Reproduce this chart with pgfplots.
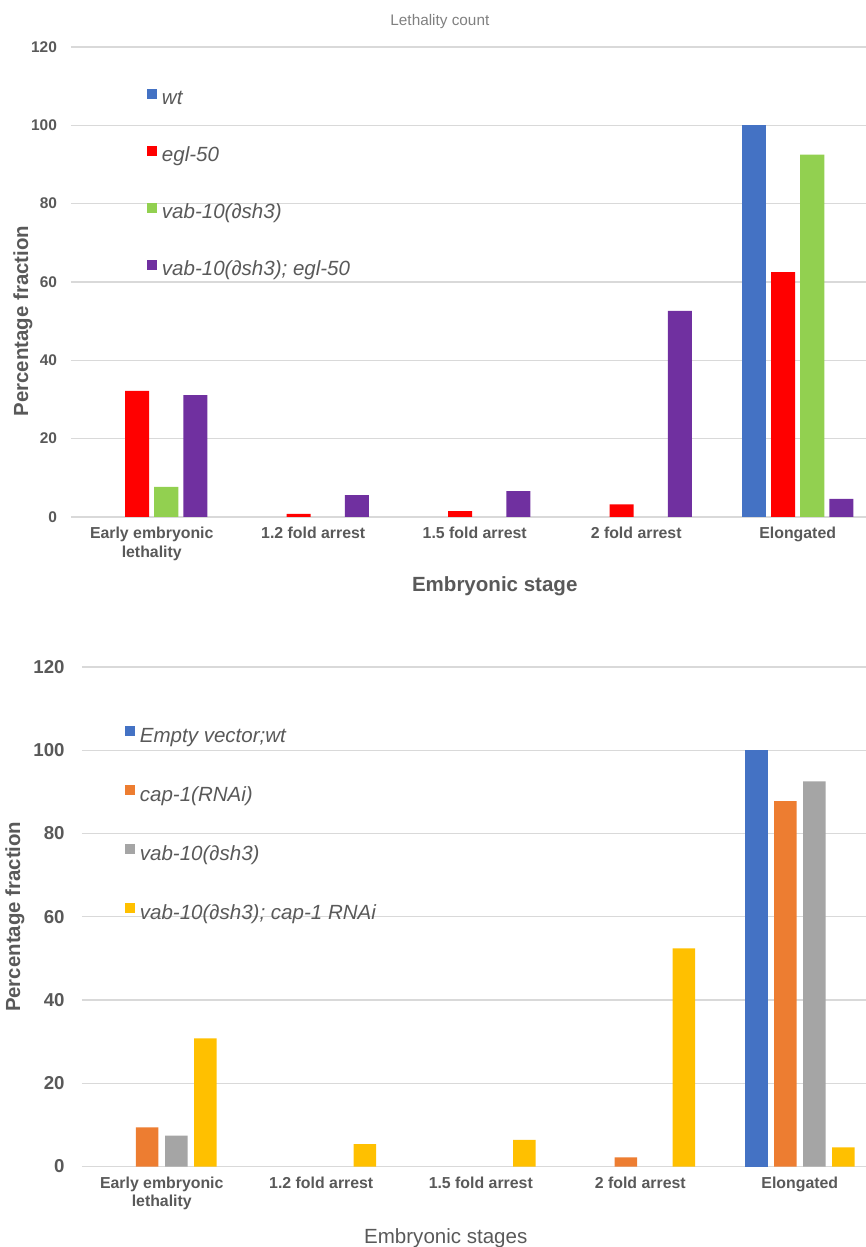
\documentclass[border=0pt]{standalone}
\usepackage{pgfplots}
\pgfplotsset{compat=1.18}
\usepackage{fontspec}
\setmainfont{Liberation Sans}
\definecolor{cwt}{HTML}{4472C4}
\definecolor{cred}{HTML}{FF0000}
\definecolor{cgreen}{HTML}{92D050}
\definecolor{cpurple}{HTML}{7030A0}
\definecolor{corange}{HTML}{ED7D31}
\definecolor{cgray}{HTML}{A5A5A5}
\definecolor{cyellow}{HTML}{FFC000}
\definecolor{txt}{HTML}{595959}
\definecolor{gridc}{HTML}{D9D9D9}
\pgfplotsset{
  sq/.style={legend image code/.code={\fill[##1] (0pt,0.75pt) rectangle (7.5pt,8.25pt);}},
  common/.style={
    scale only axis,
    anchor=south west,
    ymin=0, ymax=120, ytick={0,20,...,120},
    xmin=-0.5,
    xtick={0,1,2,3,4},
    xticklabels={{Early embryonic\\lethality},{1.2 fold arrest},{1.5 fold arrest},{2 fold arrest},{Elongated}},
    major tick length=0pt,
    axis line style={draw=none},
    ymajorgrids,
    grid style={draw=gridc, line width=0.9pt},
    /pgf/number format/assume math mode=true,
    xticklabel style={align=center, text=txt, font=\bfseries\fontsize{11.9}{14.2}\selectfont, yshift=-4pt},
    legend cell align=left,
    clip=false,
  },
}
\begin{document}
\begin{tikzpicture}
\useasboundingbox (0,0) rectangle (649.5pt,935.25pt);
% ---------------- top chart ----------------
\begin{axis}[common,
  at={(53.25pt,547.5pt)}, width=596.25pt, height=352.5pt,
  xmax=4.423,
  yticklabel style={text=txt, font=\bfseries\fontsize{11.6}{13}\selectfont, xshift=-7pt},
  title={Lethality count},
  title style={at={(axis description cs:0.464,1.038)}, anchor=center, text=gray, font=\fontsize{11.5}{13}\selectfont},
  ylabel={Percentage fraction},
  ylabel style={at={(axis description cs:-0.0604,0.417)}, anchor=center, rotate=0, text=txt, font=\bfseries\fontsize{15.3}{17}\selectfont},
  xlabel={Embryonic stage},
  xlabel style={at={(axis description cs:0.533,-0.147)}, anchor=center, text=txt, font=\bfseries\fontsize{15.4}{17}\selectfont},
  legend style={at={(axis description cs:0.0956,0.912)}, anchor=north west, draw=none, fill=none, inner sep=0pt,
    row sep=27.5pt, column sep=3.5pt, text=txt, font=\itshape\fontsize{15.4}{17}\selectfont,
    nodes={inner sep=0pt, text height=11pt, text depth=3pt}},
]
\addplot[ybar, bar width=0.149, bar shift=-0.27, fill=cwt, draw=none, sq] coordinates {(4,100)};
\addplot[ybar, bar width=0.149, bar shift=-0.09, fill=cred, draw=none, sq] coordinates {(0,32.2) (1,0.8) (2,1.5) (3,3.2) (4,62.5)};
\addplot[ybar, bar width=0.149, bar shift=0.09, fill=cgreen, draw=none, sq] coordinates {(0,7.7) (4,92.5)};
\addplot[ybar, bar width=0.149, bar shift=0.27, fill=cpurple, draw=none, sq] coordinates {(0,31.1) (1,5.6) (2,6.6) (3,52.6) (4,4.6)};
\legend{wt, egl-50, vab-10(∂sh3), vab-10(∂sh3); egl-50}
\end{axis}
% ---------------- bottom chart ----------------
\begin{axis}[common,
  at={(61.5pt,60.375pt)}, width=588pt, height=374.625pt,
  xmax=4.415,
  yticklabel style={text=txt, font=\bfseries\fontsize{14}{16}\selectfont, xshift=-9.5pt},
  ylabel={Percentage fraction},
  ylabel style={at={(axis description cs:-0.0855,0.5)}, anchor=center, text=txt, font=\bfseries\fontsize{15.3}{17}\selectfont},
  xlabel={Embryonic stages},
  xlabel style={at={(axis description cs:0.464,-0.143)}, anchor=center, text=txt, font=\fontsize{15.4}{17}\selectfont},
  legend style={at={(axis description cs:0.0548,0.883)}, anchor=north west, draw=none, fill=none, inner sep=0pt,
    row sep=29pt, column sep=3.5pt, text=txt, font=\itshape\fontsize{15.4}{17}\selectfont,
    nodes={inner sep=0pt, text height=11pt, text depth=3pt}},
]
\addplot[ybar, bar width=0.141, bar shift=-0.273, fill=cwt, draw=none, sq] coordinates {(4,100)};
\addplot[ybar, bar width=0.141, bar shift=-0.091, fill=corange, draw=none, sq] coordinates {(0,9.4) (3,2.2) (4,87.8)};
\addplot[ybar, bar width=0.141, bar shift=0.091, fill=cgray, draw=none, sq] coordinates {(0,7.4) (4,92.5)};
\addplot[ybar, bar width=0.141, bar shift=0.273, fill=cyellow, draw=none, sq] coordinates {(0,30.8) (1,5.4) (2,6.4) (3,52.4) (4,4.6)};
\legend{Empty vector;wt, cap-1(RNAi), vab-10(∂sh3), vab-10(∂sh3); cap-1 RNAi}
\end{axis}
\end{tikzpicture}
\end{document}
